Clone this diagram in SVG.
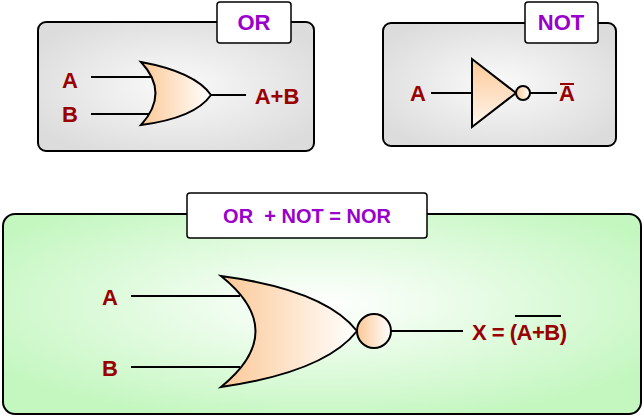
<svg xmlns="http://www.w3.org/2000/svg" width="644" height="417" viewBox="0 0 644 417">
<defs>
<radialGradient id="gray" cx="50%" cy="50%" r="60%"><stop offset="0" stop-color="#fafafa"/><stop offset="1" stop-color="#dcdcdc"/></radialGradient>
<radialGradient id="green" cx="50%" cy="45%" r="60%"><stop offset="0" stop-color="#ffffff"/><stop offset="1" stop-color="#c4f7c0"/></radialGradient>
<linearGradient id="gate" x1="0" y1="0" x2="1" y2="0"><stop offset="0" stop-color="#fcc896"/><stop offset="1" stop-color="#ffffff"/></linearGradient>
<linearGradient id="gatev" x1="0" y1="0" x2="0" y2="1"><stop offset="0" stop-color="#fcc896"/><stop offset="1" stop-color="#fff6ee"/></linearGradient>
</defs>
<style>
.box{stroke:#000;stroke-width:2}
.lbl{fill:#fff;stroke:#000;stroke-width:1.5}
.t{font-family:"Liberation Sans",Arial,sans-serif;font-weight:bold;font-size:22px}
.p{fill:#9900cc}
.r{fill:#990000}
.w{stroke:#000;stroke-width:2;fill:none}
.g{stroke:#000;stroke-width:2}
</style>
<g id="or-node">
<rect class="box" x="38" y="22" width="276" height="129" rx="8" fill="url(#gray)"/>
<rect class="lbl" x="217" y="2" width="74" height="41" rx="3"/>
<text class="t p" x="254" y="30" text-anchor="middle">OR</text>
<path class="g" fill="url(#gate)" d="M141,62 Q195,72 211,95 Q195,118 141,125 Q170,93 141,62Z"/>
<text class="t r" x="70" y="88" text-anchor="middle">A</text>
<text class="t r" x="70" y="122" text-anchor="middle">B</text>
<text class="t r" x="277" y="104" text-anchor="middle">A+B</text>
</g>
<g id="not-node">
<rect class="box" x="383" y="23" width="233" height="123" rx="8" fill="url(#gray)"/>
<rect class="lbl" x="525" y="2" width="73" height="41" rx="3"/>
<text class="t p" x="561" y="30" text-anchor="middle">NOT</text>
<path class="g" fill="url(#gatev)" d="M472,59 L516,93 L472,127Z"/>
<circle class="g" cx="523" cy="93" r="7" fill="url(#gate)"/>
<text class="t r" x="418" y="101" text-anchor="middle">A</text>
<text class="t r" x="567" y="101" text-anchor="middle">A</text>
<line x1="560" y1="84" x2="574" y2="84" stroke="#990000" stroke-width="2"/>
</g>
<g id="nor-node">
<rect class="box" x="3" y="214" width="638" height="200" rx="12" fill="url(#green)"/>
<rect class="lbl" x="187" y="193" width="240" height="45" rx="3"/>
<text class="t p" x="307" y="223" text-anchor="middle" style="font-size:20px" xml:space="preserve">OR  + NOT = NOR</text>
<path class="g" fill="url(#gate)" d="M221,276 Q325,290 357,331 Q325,372 221,387 Q290,331 221,276Z"/>
<circle class="g" cx="374" cy="331" r="17" fill="url(#gate)"/>
<text class="t r" x="110" y="305" text-anchor="middle">A</text>
<text class="t r" x="110" y="376" text-anchor="middle">B</text>
<text class="t r" x="472" y="340" textLength="95">X = (A+B)</text>
<line x1="515" y1="316" x2="561" y2="316" stroke="#000" stroke-width="2"/>
</g>
<g id="connectors">
<path class="w" d="M91,77H151M91,114H149M211,95H246"/>
<path class="w" d="M431,93H472M530,93H557"/>
<path class="w" d="M131,296H240M131,367H240M391,331H463"/>
</g>
</svg>
